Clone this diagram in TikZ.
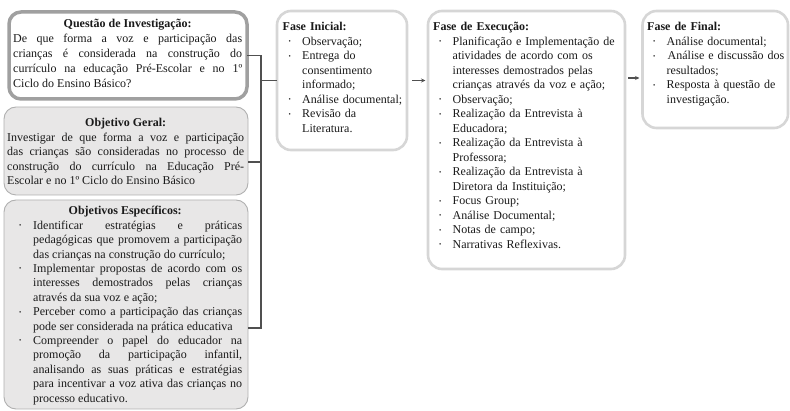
\documentclass[tikz,border=0pt]{standalone}
\usepackage{fontspec}
\setmainfont{Liberation Serif}
\usetikzlibrary{arrows.meta}

\definecolor{qborder}{HTML}{A0A0A0}
\definecolor{objfill}{HTML}{E8E7E7}
\definecolor{objborder}{HTML}{B0B0B0}
\definecolor{faseborder}{HTML}{D6D6D6}
\definecolor{linkgray}{HTML}{505050}
\definecolor{txtgray}{HTML}{1A1A1A}

\hyphenpenalty=10000
% bullet lines of the phase boxes and of the objectives box
\newcommand{\dotmark}{\raisebox{1.6pt}{\fontsize{6.5}{6.5}\selectfont •}}
\newcommand{\fitem}{\par\hangindent=19.5pt\hangafter=1\noindent\hspace*{6pt}\makebox[13.5pt][l]{\dotmark}}
\newcommand{\oitem}{\par\hangindent=25pt\hangafter=1\noindent\hspace*{11pt}\makebox[14pt][l]{\dotmark}}

\tikzset{
  box/.style={rectangle, rounded corners=12pt, outer sep=0pt, anchor=north west},
  qbox/.style={box, draw=qborder, line width=3.5pt, fill=white},
  objbox/.style={box, draw=objborder, line width=0.9pt, fill=objfill},
  fasebox/.style={box, draw=faseborder, line width=2.6pt, fill=white, rounded corners=14pt},
  boxtext/.style={anchor=base west, inner sep=0pt, text=txtgray, font=\fontsize{12}{14.5}\selectfont},
  link/.style={draw=linkgray, line width=1.1pt},
  flow/.style={link, -{Stealth[length=4.5pt,width=4pt]}},
}

\begin{document}
\begin{tikzpicture}[x=1pt, y=-1pt]
  \useasboundingbox (0,0) rectangle (790,411);

  % Boxes
  \node[qbox, minimum width=238pt, minimum height=87pt] (q) at (9,12) {};
  \node[objbox, minimum width=244pt, minimum height=88pt] (og) at (4,107) {};
  \node[objbox, minimum width=244pt, minimum height=209pt] (oe) at (4,200) {};
  \node[fasebox, minimum width=130pt, minimum height=139pt] (ini) at (277,11) {};
  \node[fasebox, minimum width=197pt, minimum height=258pt] (exe) at (428,11) {};
  \node[fasebox, minimum width=145.5pt, minimum height=117pt] (fin) at (642.5,11) {};

  % Texts
  \node[boxtext, text width=229pt, align=justify, font=\fontsize{12}{15}\selectfont] (q text) at (13,28) {%
    \makebox[\linewidth]{\textbf{Questão de Investigação:}}\par
    De que forma a voz e participação das\linebreak
    crianças é considerada na construção do\linebreak
    currículo na educação Pré-Escolar e no 1º\linebreak
    Ciclo do Ensino Básico?\par};

  \node[boxtext, text width=237pt, align=justify] (og text) at (7,127) {%
    \makebox[\linewidth]{\textbf{Objetivo Geral:}}\par
    Investigar de que forma a voz e participação\linebreak
    das crianças são consideradas no processo de\linebreak
    construção do currículo na Educação Pré-\linebreak
    Escolar e no 1º Ciclo do Ensino Básico\par};

  \node[boxtext, text width=234pt, align=justify, font=\fontsize{12}{14.4}\selectfont] (oe text) at (8,215) {%
    \makebox[\linewidth]{\textbf{Objetivos Específicos:}}
    \oitem Identificar estratégias e práticas\linebreak
    pedagógicas que promovem a participação\linebreak
    das crianças na construção do currículo;
    \oitem Implementar propostas de acordo com os\linebreak
    interesses demostrados pelas crianças\linebreak
    através da sua voz e ação;
    \oitem Perceber como a participação das crianças\linebreak
    pode ser considerada na prática educativa
    \oitem Compreender o papel do educador na\linebreak
    promoção da participação infantil,\linebreak
    analisando as suas práticas e estratégias\linebreak
    para incentivar a voz ativa das crianças no\linebreak
    processo educativo.\par};

  \node[boxtext, text width=122pt] (ini text) at (282.5,31) {%
    \textbf{Fase Inicial:}
    \fitem Observação;
    \fitem Entrega do\newline consentimento\newline informado;
    \fitem Análise documental;
    \fitem Revisão da\newline Literatura.\par};

  \node[boxtext, text width=190pt] (exe text) at (433,31) {%
    \textbf{Fase de Execução:}
    \fitem Planificação e Implementação de\newline
      atividades de acordo com os\newline
      interesses demostrados pelas\newline
      crianças através da voz e ação;
    \fitem Observação;
    \fitem Realização da Entrevista à\newline Educadora;
    \fitem Realização da Entrevista à\newline Professora;
    \fitem Realização da Entrevista à\newline Diretora da Instituição;
    \fitem Focus Group;
    \fitem Análise Documental;
    \fitem Notas de campo;
    \fitem Narrativas Reflexivas.\par};

  \node[boxtext, text width=150pt] (fin text) at (647,31) {%
    \textbf{Fase de Final:}
    \fitem Análise documental;
    \fitem \hspace{1pt}Análise e discussão dos\newline resultados;
    \fitem Resposta à questão de\newline investigação.\par};

  % Connectors
  \coordinate (trunk) at (261,80.5);
  \draw[link] (q.east) -| (trunk) |- ([yshift=-23.5pt]oe.east);
  \draw[link] ([yshift=-11pt]og.east) -- ([yshift=-11pt]og.east -| trunk);
  \draw[link] (trunk) -- (ini.west);
  \draw[flow, shorten >=2.5pt] ([xshift=5pt]ini.east) -- (ini.east -| exe.west);
  \draw[flow, shorten >=3pt] ([xshift=3pt,yshift=62pt]exe.east) -- ([yshift=62pt]exe.east -| fin.west);
\end{tikzpicture}
\end{document}
